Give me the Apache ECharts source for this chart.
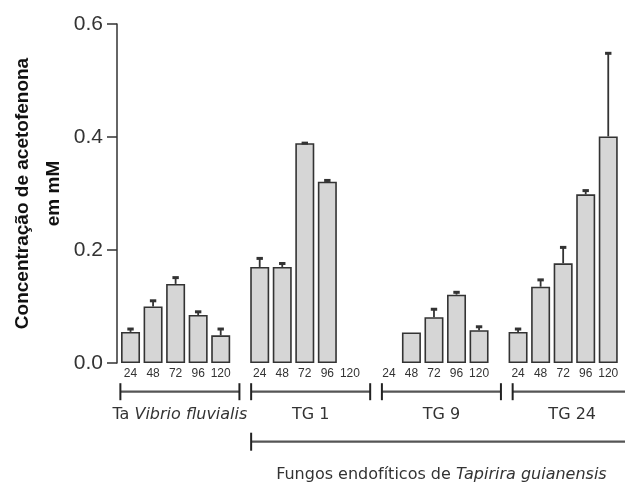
<!DOCTYPE html>
<html>
<head>
<meta charset="utf-8">
<script src="https://cdn.jsdelivr.net/npm/echarts@6/dist/echarts.min.js"></script>
<style>
html,body{margin:0;padding:0;background:#fff;}
#chart{width:625px;height:482px;}
</style>
</head>
<body>
<div id="chart"></div>
<script>
// ---- data ----
const HOURS = ['24', '48', '72', '96', '120'];
const GROUP_LABELS = ['{n|Ta }{i|Vibrio fluvialis}', 'TG 1', 'TG 9', 'TG 24'];
const FUNGI_LABEL = '{n|Fungos endofíticos de }{i|Tapirira guianensis}';
const Y_TICKS = [0.0, 0.2, 0.4, 0.6];

const vibrio    = [0.055, 0.100, 0.140, 0.085, 0.049];
const vibrioErr = [0.006, 0.011, 0.012, 0.0065, 0.012];
const tg1       = [0.170, 0.170, 0.389, 0.321, null];
const tg1Err    = [0.016, 0.007, 0.001, 0.003, null];
const tg9       = [null, 0.054, 0.081, 0.121, 0.058];
const tg9Err    = [null, 0, 0.015, 0.005, 0.007];
const tg24      = [0.055, 0.135, 0.1765, 0.2985, 0.401];
const tg24Err   = [0.006, 0.013, 0.029, 0.0075, 0.148];

const VALUES = [vibrio, tg1, tg9, tg24];
const ERRORS = [vibrioErr, tg1Err, tg9Err, tg24Err];

// ---- layout ----
const G = 5.73;            // group step in bar slots
const BR_START = -0.45;    // bracket start offset (slots)
const BR_STEP = 0.07;      // brackets drift slightly from bar groups
const BR_LEN = 5.28;       // bracket length (slots)
const SANS = "'Liberation Sans', Arial, sans-serif";
const WIDE = "'DejaVu Sans', sans-serif";
const pos = (g, i) => g * G + i;

const barData = [], errData = [], hourData = [], groupData = [];
VALUES.forEach((arr, g) => {
  arr.forEach((v, i) => {
    hourData.push([pos(g, i), 0, i]);
    if (v != null) {
      barData.push([pos(g, i), v]);
      const e = ERRORS[g][i];
      if (e) errData.push([pos(g, i), v, e]);
    }
  });
  groupData.push([pos(g, 0) + BR_START + g * BR_STEP, 0, g]);
});

const chart = echarts.init(document.getElementById('chart'), null, {renderer: 'canvas'});

const option = {
  animation: false,
  backgroundColor: '#fff',
  grid: {left: 117, top: 24, width: 505, height: 339, containLabel: false, outerBoundsMode: 'none'},
  xAxis: {type: 'value', min: -0.6, max: 21.8, show: false},
  yAxis: {
    type: 'value', min: 0, max: 0.6, interval: 0.2,
    axisLine: {show: true, onZero: false, lineStyle: {color: '#333', width: 1.5}},
    axisTick: {show: true, length: 10, lineStyle: {color: '#333', width: 1.5}},
    splitLine: {show: false},
    axisLabel: {
      formatter: v => Y_TICKS.find(t => Math.abs(t - v) < 1e-9).toFixed(1),
      fontSize: 21, fontFamily: SANS, color: '#333', margin: 14
    },
    name: 'Concentração de acetofenona\nem mM',
    nameLocation: 'middle', nameRotate: 90, nameGap: 48, nameMoveOverlap: false,
    nameTextStyle: {fontSize: 19, fontWeight: 'bold', fontFamily: SANS, color: '#111', lineHeight: 31, align: 'center'}
  },
  series: [
    {
      type: 'bar', data: barData, barWidth: 19,
      itemStyle: {color: '#d6d6d6', borderColor: '#333', borderWidth: 1.6},
      z: 2
    },
    {
      type: 'custom', data: errData, clip: false, z: 3,
      renderItem: (params, api) => {
        const x = api.value(0), v = api.value(1), e = api.value(2);
        const a = api.coord([x, v]), b = api.coord([x, v + e]);
        return {type: 'group', children: [
          {type: 'line', shape: {x1: a[0], y1: a[1], x2: b[0], y2: b[1]}, style: {stroke: '#333', lineWidth: 1.8}},
          {type: 'rect', shape: {x: b[0] - 3.2, y: b[1] - 1, width: 6.4, height: 3}, style: {fill: '#333'}}
        ]};
      }
    },
    {
      type: 'custom', data: hourData, clip: false, z: 3,
      renderItem: (params, api) => {
        const p = api.coord([api.value(0), 0]);
        return {type: 'text', x: p[0], y: p[1] + 11, style: {
          text: HOURS[api.value(2)], align: 'center', verticalAlign: 'middle',
          fontSize: 12, fontFamily: SANS, fill: '#333'
        }};
      }
    },
    {
      type: 'custom', data: groupData, clip: false, z: 3,
      renderItem: (params, api) => {
        const x0 = api.value(0), g = api.value(2);
        const a = api.coord([x0, 0]), b = api.coord([x0 + BR_LEN, 0]);
        const y = a[1] + 28.7;
        const rich = {
          n: {fontSize: 16, fontFamily: WIDE, fill: '#333', color: '#333'},
          i: {fontSize: 16, fontFamily: WIDE, fontStyle: 'italic', fill: '#333', color: '#333'}
        };
        const children = [
          {type: 'line', shape: {x1: a[0], y1: y, x2: b[0], y2: y}, style: {stroke: '#555', lineWidth: 2.2}},
          {type: 'line', shape: {x1: a[0], y1: y - 8.5, x2: a[0], y2: y + 8.5}, style: {stroke: '#222', lineWidth: 2}},
          {type: 'line', shape: {x1: b[0], y1: y - 8.5, x2: b[0], y2: y + 8.5}, style: {stroke: '#222', lineWidth: 2}},
          {type: 'text', x: (a[0] + b[0]) / 2, y: a[1] + 52, style: {
            text: GROUP_LABELS[g], rich: rich, align: 'center', verticalAlign: 'middle',
            fontSize: 16, fontFamily: WIDE, fill: '#333'
          }}
        ];
        if (g === 1) {
          const c = api.coord([pos(3, 0) + BR_START + 3 * BR_STEP + BR_LEN, 0]);
          const y2 = a[1] + 78.7;
          children.push(
            {type: 'line', shape: {x1: a[0], y1: y2, x2: c[0], y2: y2}, style: {stroke: '#555', lineWidth: 2.2}},
            {type: 'line', shape: {x1: a[0], y1: y2 - 9, x2: a[0], y2: y2 + 9}, style: {stroke: '#222', lineWidth: 2}},
            {type: 'text', x: (a[0] + c[0]) / 2, y: a[1] + 112, style: {
              text: FUNGI_LABEL, rich: rich, align: 'center', verticalAlign: 'middle',
              fontSize: 16, fontFamily: WIDE, fill: '#333'
            }}
          );
        }
        return {type: 'group', children: children};
      }
    }
  ]
};
chart.setOption(option);
</script>
</body>
</html>
